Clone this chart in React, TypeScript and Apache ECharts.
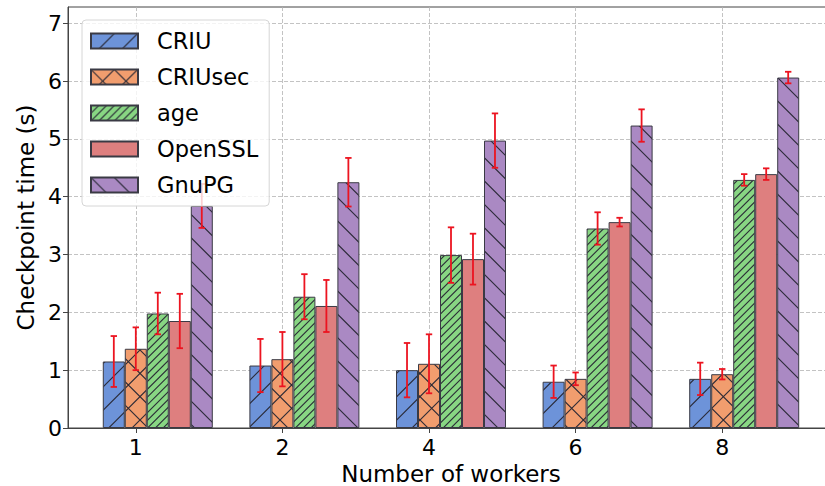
import React, { useEffect, useRef } from 'react';
import * as echarts from 'echarts';

const categories = ['1', '2', '4', '6', '8'];
const seriesNames = ['CRIU', 'CRIUsec', 'age', 'OpenSSL', 'GnuPG'];

const criu = [1.15, 1.08, 1.0, 0.8, 0.85];
const criuErr = [0.44, 0.46, 0.47, 0.28, 0.28];
const criusec = [1.37, 1.19, 1.11, 0.85, 0.93];
const criusecErr = [0.37, 0.47, 0.51, 0.11, 0.09];
const age = [1.98, 2.27, 2.99, 3.45, 4.29];
const ageErr = [0.36, 0.39, 0.48, 0.28, 0.1];
const openssl = [1.85, 2.11, 2.92, 3.56, 4.39];
const opensslErr = [0.47, 0.45, 0.44, 0.075, 0.1];
const gnupg = [3.84, 4.25, 4.97, 5.23, 6.06];
const gnupgErr = [0.38, 0.42, 0.47, 0.28, 0.1];

const values = [criu, criusec, age, openssl, gnupg];
const errors = [criuErr, criusecErr, ageErr, opensslErr, gnupgErr];
const colors = ['#6D93D9', '#F19D6E', '#88D683', '#DE7F7F', '#AA89C3'];
const hatches: string[][] = [['ne1'], ['ne1', 'se1'], ['ne3'], [], ['se1']];

const BAR_W = 0.15;
const FONT = 'DejaVu Sans';

function makeFill(bg: string, kinds: string[]): any {
  if (kinds.length === 0) return bg;
  const T = 70;
  let d = '';
  kinds.forEach((k) => {
    const n = k.endsWith('3') ? 9 : 3;
    const p = T / n;
    if (k.startsWith('ne')) {
      for (let j = 0; j <= 2 * n; j++) {
        const c = j * p;
        d += `M${(c + 3).toFixed(3)},-3L-3,${(c + 3).toFixed(3)}`;
      }
    } else {
      for (let j = -n; j <= n; j++) {
        const c = j * p;
        d += `M-3,${(c - 3).toFixed(3)}L${T + 3},${(c + T + 3).toFixed(3)}`;
      }
    }
  });
  const svg = `<svg xmlns='http://www.w3.org/2000/svg' width='${T}' height='${T}'><rect width='${T}' height='${T}' fill='${bg}'/><path d='${d}' stroke='#262633' stroke-opacity='0.95' stroke-width='1.15' fill='none'/></svg>`;
  return {
    image: 'data:image/svg+xml;charset=utf-8,' + encodeURIComponent(svg),
    repeat: 'repeat',
    imageWidth: T,
    imageHeight: T,
  };
}

export default function App() {
  const ref = useRef<HTMLDivElement>(null);
  useEffect(() => {
    if (!ref.current) return;
    const chart = echarts.init(ref.current, null, { renderer: 'svg' });

    const barSeries = seriesNames.map((name, s) => ({
      type: 'bar',
      name,
      data: values[s].map((v, i) => [i + BAR_W, v]),
      barWidth: 22,
      barGap: '0%',
      itemStyle: {
        color: makeFill(colors[s], hatches[s]),
        borderColor: '#3a3a44',
        borderWidth: 1,
      },
      emphasis: { disabled: true },
      z: 2,
    }));

    const errData: number[][] = [];
    values.forEach((vals, s) => {
      vals.forEach((v, i) => {
        errData.push([i + (s - 1) * BAR_W, v - errors[s][i], v + errors[s][i]]);
      });
    });

    const errSeries = {
      type: 'custom',
      name: 'err',
      data: errData,
      z: 3,
      renderItem: (params: any, api: any) => {
        const x = api.value(0);
        const lo = api.coord([x, api.value(1)]);
        const hi = api.coord([x, api.value(2)]);
        const style = { stroke: '#ec1420', lineWidth: 1.8 };
        const cw = 3.2;
        return {
          type: 'group',
          children: [
            { type: 'line', shape: { x1: lo[0], y1: lo[1], x2: hi[0], y2: hi[1] }, style },
            { type: 'line', shape: { x1: lo[0] - cw, y1: lo[1], x2: lo[0] + cw, y2: lo[1] }, style },
            { type: 'line', shape: { x1: hi[0] - cw, y1: hi[1], x2: hi[0] + cw, y2: hi[1] }, style },
          ],
        };
      },
    };

    const gridLine = { show: true, lineStyle: { type: [4, 2], color: '#b4b4b4', width: 0.8 } };

    chart.setOption({
      animation: false,
      textStyle: { fontFamily: FONT },
      grid: {
        left: 68,
        right: -9,
        top: 7,
        bottom: 58,
        outerBoundsMode: 'none',
        containLabel: false,
        show: true,
        borderColor: '#444',
        borderWidth: 1,
        backgroundColor: 'transparent',
      },
      legend: {
        data: seriesNames,
        orient: 'vertical',
        left: 82,
        top: 20,
        padding: [9.5, 11, 9.5, 8],
        itemWidth: 47,
        itemHeight: 15,
        itemGap: 13,
        icon: 'rect',
        backgroundColor: 'rgba(255,255,255,0.8)',
        borderColor: '#d6d6d6',
        borderWidth: 1,
        borderRadius: 4,
        textStyle: { fontSize: 22.5, fontFamily: FONT, color: '#000', padding: [0, 0, 0, 14] },
      },
      xAxis: {
        type: 'value',
        min: -0.4625,
        max: 4.7625,
        splitNumber: 5,
        axisLine: { show: true, onZero: false, lineStyle: { color: '#444' } },
        axisTick: { show: true, length: 5, lineStyle: { color: '#444' } },
        axisLabel: {
          fontSize: 22,
          fontFamily: FONT,
          color: '#000',
          margin: 8,
          showMinLabel: false,
          showMaxLabel: false,
          formatter: (v: number) => {
            const r = Math.round(v);
            return Math.abs(v - r) < 1e-6 && categories[r] !== undefined ? categories[r] : '';
          },
        },
        splitLine: { ...gridLine, showMinLine: false, showMaxLine: false },
        name: 'Number of workers',
        nameLocation: 'middle',
        nameGap: 32,
        nameTextStyle: { fontSize: 23, fontFamily: FONT, color: '#000' },
      },
      yAxis: {
        type: 'value',
        min: 0,
        max: 7.28,
        interval: 1,
        axisLine: { show: true, onZero: false, lineStyle: { color: '#444' } },
        axisTick: { show: true, length: 5, lineStyle: { color: '#444' } },
        axisLabel: {
          fontSize: 22,
          fontFamily: FONT,
          color: '#000',
          margin: 6,
          showMaxLabel: false,
        },
        splitLine: { ...gridLine, showMinLine: false, showMaxLine: false },
        name: 'Checkpoint time (s)',
        nameLocation: 'middle',
        nameGap: 30,
        nameTextStyle: { fontSize: 23, fontFamily: FONT, color: '#000' },
      },
      series: [...barSeries, errSeries],
    });

    return () => chart.dispose();
  }, []);

  return <div ref={ref} style={{ width: 825, height: 486, position: 'absolute', left: 0, top: 0 }} />;
}
